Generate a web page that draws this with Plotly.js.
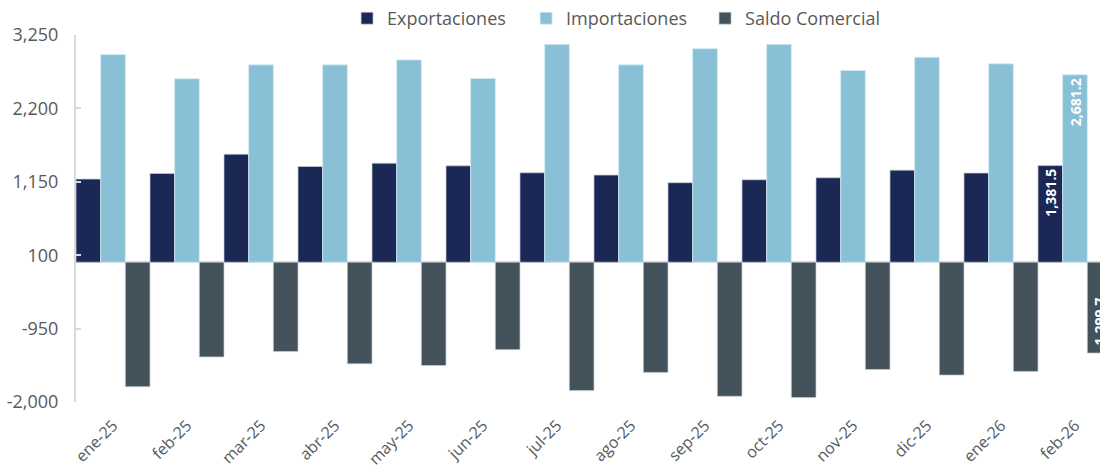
<!DOCTYPE html>
<html>
<head>
<meta charset="utf-8">
<script src="https://cdn.plot.ly/plotly-3.0.1.min.js"></script>
<style>html,body{margin:0;padding:0;background:#fff;}#chart{width:1100px;height:475px;}</style>
</head>
<body>
<div id="chart"></div>
<script>
const categories = ['ene-25','feb-25','mar-25','abr-25','may-25','jun-25','jul-25','ago-25','sep-25','oct-25','nov-25','dic-25','ene-26','feb-26'];
const exportaciones = [1189, 1269, 1545, 1369, 1416, 1378, 1279, 1246, 1137, 1179, 1208, 1317, 1275, 1381.5];
const importaciones = [2970, 2624, 2823, 2823, 2894, 2629, 3116, 2823, 3055, 3116, 2743, 2932, 2838, 2681.2];
const saldo = [-1781, -1355, -1278, -1454, -1478, -1251, -1837, -1577, -1918, -1937, -1535, -1615, -1563, -1299.7];
const yTickVals = [-2000, -950, 100, 1150, 2200, 3250];

const fmtTick = v => (v < 0 ? '-' : '') + Math.abs(v).toLocaleString('en-US');
const fmtLabel = v => (v < 0 ? '-' : '') + Math.abs(v).toLocaleString('en-US', {minimumFractionDigits: 1, maximumFractionDigits: 1});
const lastOnly = arr => arr.map((v, i) => i === arr.length - 1 ? fmtLabel(v) : '');

const FONT = 'Open Sans, Lato, sans-serif';
const common = {
  type: 'bar',
  x: categories,
  textposition: 'inside',
  insidetextanchor: 'end',
  textangle: -90,
  textfont: {family: FONT, size: 15, color: '#ffffff', weight: 'bold'},
  cliponaxis: true,
  hoverinfo: 'skip'
};

const traces = [
  Object.assign({}, common, {name: 'Exportaciones', y: exportaciones, text: lastOnly(exportaciones),
    marker: {color: '#1b2856', line: {color: 'rgba(200,205,220,0.7)', width: 1}}}),
  Object.assign({}, common, {name: 'Importaciones', y: importaciones, text: lastOnly(importaciones),
    marker: {color: '#89c0d5', line: {color: 'rgba(210,235,245,0.8)', width: 1}}}),
  Object.assign({}, common, {name: 'Saldo Comercial', y: saldo, text: lastOnly(saldo),
    marker: {color: '#44525c', line: {color: 'rgba(200,205,210,0.7)', width: 1}}})
];

const layout = {
  width: 1100, height: 475,
  margin: {l: 76, r: 0, t: 33, b: 73, pad: 0},
  paper_bgcolor: '#ffffff', plot_bgcolor: '#ffffff',
  font: {family: FONT, size: 18, color: '#595959'},
  barmode: 'group', bargap: 0, bargroupgap: 0,
  showlegend: true,
  legend: {orientation: 'h', x: 0.2647, xanchor: 'left', y: 1.045, yanchor: 'middle',
    font: {family: FONT, size: 18, color: '#595959'}, itemwidth: 30,
    entrywidth: 134, entrywidthmode: 'pixels', traceorder: 'normal'},
  xaxis: {
    type: 'category', range: [-0.5, 13.338], tickangle: -45,
    showline: false, ticks: '', showgrid: false, zeroline: false,
    ticklabelstandoff: 10,
    tickfont: {family: FONT, size: 16, color: '#595959'}, fixedrange: true
  },
  yaxis: {
    range: [-2000, 3250], tickmode: 'array', tickvals: yTickVals, ticktext: yTickVals.map(fmtTick),
    showline: true, linecolor: '#d9d9d9', linewidth: 2,
    ticks: 'inside', ticklen: 5, tickcolor: '#d9d9d9', tickwidth: 2,
    ticklabelstandoff: 12,
    showgrid: false, zeroline: true, zerolinecolor: '#d9d9d9', zerolinewidth: 2,
    tickfont: {family: FONT, size: 18, color: '#595959'}, fixedrange: true
  }
};

Plotly.newPlot('chart', traces, layout, {displayModeBar: false, staticPlot: true});
</script>
</body>
</html>
